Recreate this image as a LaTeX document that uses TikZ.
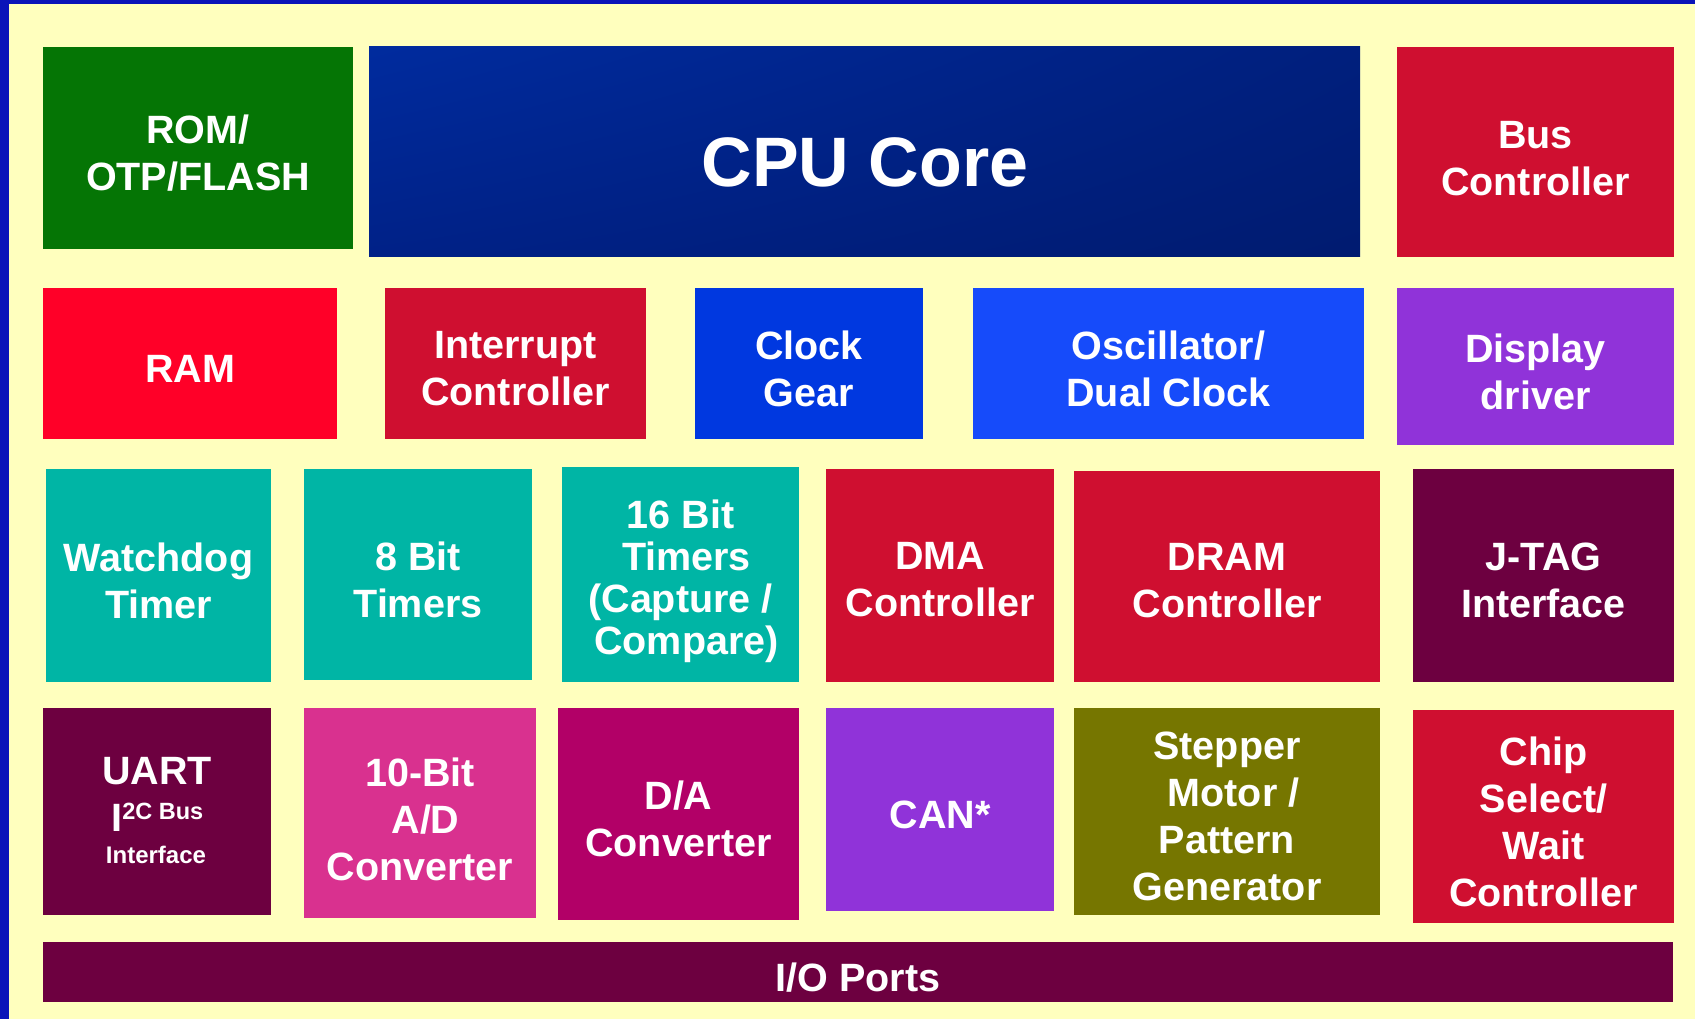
\documentclass[tikz,border=0pt]{standalone}
\usepackage{fontspec}
\setmainfont{Liberation Sans}
\usetikzlibrary{shadings}

% palette
\definecolor{paper}{RGB}{255,255,190}
\definecolor{frameblue}{RGB}{10,20,185}
\definecolor{romgreen}{RGB}{5,117,5}
\definecolor{ctrlred}{RGB}{207,15,48}
\definecolor{ramred}{RGB}{255,0,40}
\definecolor{clkblue}{RGB}{0,56,224}
\definecolor{oscblue}{RGB}{22,75,250}
\definecolor{violetblk}{RGB}{144,51,217}
\definecolor{tealblk}{RGB}{0,181,165}
\definecolor{wine}{RGB}{109,0,64}
\definecolor{pinkblk}{RGB}{217,49,143}
\definecolor{magentablk}{RGB}{178,0,103}
\definecolor{oliveblk}{RGB}{118,118,0}
\definecolor{cpuUL}{RGB}{0,43,158}
\definecolor{cpuUR}{RGB}{0,31,125}
\definecolor{cpuLL}{RGB}{0,33,135}
\definecolor{cpuLR}{RGB}{0,27,112}

% a filled block given by its corners: name, x1, y1, x2, y2, fill options
\newcommand\chipblock[6]{%
  \node[blk,#6,minimum width={(#4)-(#2)},minimum height={(#5)-(#3)}]
    (#1) at ({((#2)+(#4))/2},{((#3)+(#5))/2}) {};}

\begin{document}
\begin{tikzpicture}[x=1pt,y=-1pt,
  blk/.style={rectangle,draw=none,inner sep=0pt,outer sep=0pt},
  lbl/.style={text=white,align=center,inner sep=0pt,
              font=\bfseries\fontsize{39.5}{47}\selectfont}]
\useasboundingbox (0,0) rectangle (1695,1019);

% page and frame
\fill[paper] (0,0) rectangle (1695,1019);
\fill[frameblue] (0,0) rectangle (1695,4);
\fill[frameblue] (0,0) rectangle (9,1019);

% row 1
\chipblock{rom}{43}{47}{353}{249}{fill=romgreen}
\chipblock{cpu}{369}{47}{1360}{257}{upper left=cpuUL,upper right=cpuUR,lower left=cpuLL,lower right=cpuLR}
\chipblock{bus}{1397}{47}{1674}{257}{fill=ctrlred}

% row 2
\chipblock{ram}{43}{288}{337}{439}{fill=ramred}
\chipblock{intc}{385}{288}{646}{439}{fill=ctrlred}
\chipblock{clk}{695}{288}{923}{439}{fill=clkblue}
\chipblock{osc}{973}{288}{1364}{439}{fill=oscblue}
\chipblock{disp}{1397}{288}{1674}{445}{fill=violetblk}

% row 3
\chipblock{wdt}{46}{469}{271}{682}{fill=tealblk}
\chipblock{tmr8}{304}{469}{532}{680}{fill=tealblk}
\chipblock{tmr16}{562}{467}{799}{682}{fill=tealblk}
\chipblock{dma}{826}{469}{1054}{682}{fill=ctrlred}
\chipblock{dram}{1074}{471}{1380}{682}{fill=ctrlred}
\chipblock{jtag}{1413}{469}{1674}{682}{fill=wine}

% row 4
\chipblock{uart}{43}{708}{271}{915}{fill=wine}
\chipblock{adc}{304}{708}{536}{918}{fill=pinkblk}
\chipblock{dac}{558}{708}{799}{920}{fill=magentablk}
\chipblock{can}{826}{708}{1054}{911}{fill=violetblk}
\chipblock{step}{1074}{708}{1380}{915}{fill=oliveblk}
\chipblock{chip}{1413}{710}{1674}{923}{fill=ctrlred}

% port bar
\chipblock{io}{43}{942}{1673}{1002}{fill=wine}

% labels
\node[lbl] (romT) at (198,153.5) {ROM/\\OTP/FLASH};
\node[lbl,anchor=base,font=\bfseries\fontsize{70}{80}\selectfont] (cpuT) at (865,186.7) {CPU Core};
\node[lbl] (busT) at (1535.5,158.5) {Bus\\Controller};

\node[lbl,anchor=base] (ramT) at (190,382.5) {RAM};
\node[lbl] (intcT) at (515.5,368.5) {Interrupt\\Controller};
\node[lbl] (clkT) at (809,368.8) {Clock\\Gear};
\node[lbl] (oscT) at (1168.5,368.8) {Oscillator/\\Dual Clock};
\node[lbl] (dispT) at (1535.5,372) {Display\\driver};

\node[lbl] (wdtT) at (158.5,580.5) {Watchdog\\Timer};
\node[lbl] (tmr8T) at (418,579.7) {8 Bit\\Timers};
\node[lbl,font=\bfseries\fontsize{39.5}{42}\selectfont] (tmr16T) at (680.5,581.3)
  {16 Bit\\\hspace*{12pt}Timers\\(Capture /\\\hspace*{12pt}Compare)};
\node[lbl] (dmaT) at (940,580) {DMA\\Controller};
\node[lbl] (dramT) at (1227,580.5) {DRAM\\Controller};
\node[lbl] (jtagT) at (1543.5,580.5) {J-TAG\\Interface};

\node[lbl,anchor=base] (uartT) at (157,784.7) {UART};
\node[lbl,anchor=base] (uartBus) at (157.3,831)
  {I\raisebox{12pt}{\fontsize{23.5}{26}\selectfont 2C Bus}};
\node[lbl,anchor=base,font=\bfseries\fontsize{24}{28}\selectfont] (uartIf) at (156,863.3) {Interface};
\node[lbl] (adcT) at (420,819) {10-Bit\\\hspace*{11pt}A/D\\Converter};
\node[lbl] (dacT) at (678.5,819.2) {D/A\\Converter};
\node[lbl,anchor=base] (canT) at (940,828.3) {CAN*};
\node[lbl] (stepT) at (1227,816.3) {Stepper\\\hspace*{13pt}Motor /\\Pattern\\Generator};
\node[lbl] (chipT) at (1543.5,821.5) {Chip\\Select/\\Wait\\Controller};

\node[lbl,anchor=base] (ioT) at (858,991) {I/O Ports};
\end{tikzpicture}
\end{document}
